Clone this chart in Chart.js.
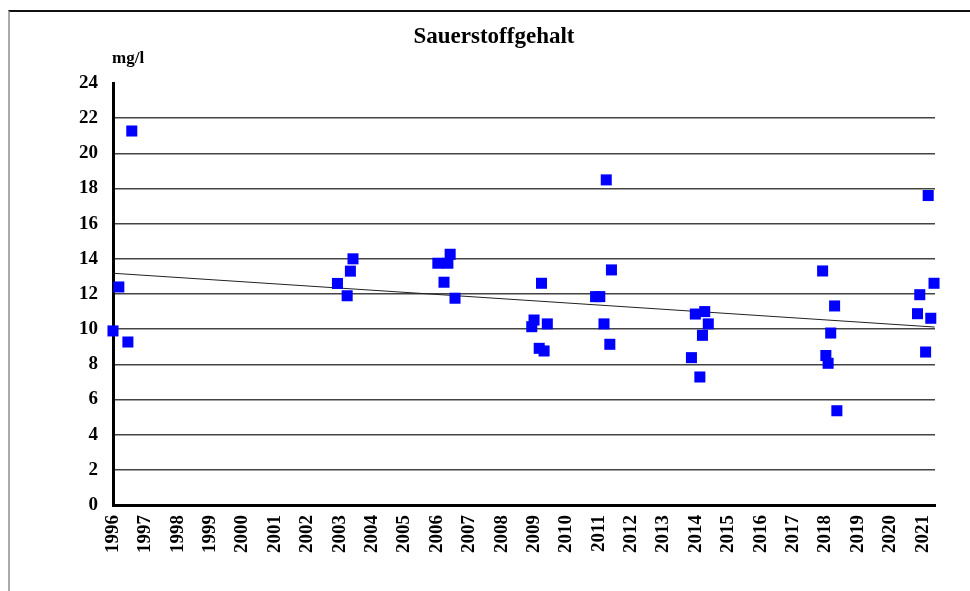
<!DOCTYPE html>
<html>
<head>
<meta charset="utf-8">
<script src="https://cdn.jsdelivr.net/npm/chart.js@4/dist/chart.umd.min.js"></script>
<style>
    html, body { margin: 0; padding: 0; background: #fff; }
    #wrap { position: relative; width: 970px; height: 591px; }
    #frame { position: absolute; left: 8px; top: 10px; right: 0; bottom: 0; border-top: 2px solid #111; border-left: 2px solid #aaa; }
    canvas { position: absolute; left: 0; top: 0; }
</style>
</head>
<body>
<div id="wrap">
    <div id="frame"></div>
    <canvas id="chart" width="970" height="591"></canvas>
</div>
<script>
//Measured values (decimal year, mg/l)
const sampleYears = [
    1996.0, 1996.18, 1996.46, 1996.58,
    2002.93, 2003.23, 2003.33, 2003.41,
    2006.03, 2006.22, 2006.34, 2006.41, 2006.56,
    2008.93, 2009.0, 2009.16, 2009.23, 2009.31, 2009.41,
    2010.9, 2011.03, 2011.16, 2011.23, 2011.34, 2011.39,
    2013.86, 2013.98, 2014.12, 2014.2, 2014.27, 2014.38,
    2017.91, 2018.01, 2018.08, 2018.16, 2018.28, 2018.35,
    2020.84, 2020.91, 2021.09, 2021.17, 2021.25, 2021.35
];
const oxygenValues = [
    9.9, 12.4, 9.27, 21.27,
    12.6, 11.9, 13.3, 14.0,
    13.75, 12.67, 13.75, 14.26, 11.76,
    10.14, 10.52, 8.91, 12.61, 8.76, 10.3,
    11.85, 11.85, 10.3, 18.49, 9.14, 13.37,
    8.38, 10.86, 7.28, 9.65, 11.0, 10.3,
    13.31, 8.5, 8.06, 9.78, 11.32, 5.36,
    10.88, 11.96, 8.7, 17.6, 10.62, 12.61
];

//Trend line end points
const trendYears = [1996, 2021.37];
const trendValues = [13.18, 10.12];

const yearTicks = [1996, 2021];
const valueTicks = [0, 24];

const serif = "'Liberation Serif', 'Times New Roman', serif";

const points = sampleYears.map((yr, i) => ({ x: yr, y: oxygenValues[i] }));
const trend = trendYears.map((yr, i) => ({ x: yr, y: trendValues[i] }));

//Title and unit text
const textPlugin = {
    id: 'texts',
    afterDraw(chart) {
        const c = chart.ctx;
        c.save();
        c.fillStyle = '#000';
        c.textBaseline = 'middle';
        c.textAlign = 'center';
        c.font = 'bold 23px ' + serif;
        c.fillText('Sauerstoffgehalt', 494, 37);
        c.textAlign = 'left';
        c.font = 'bold 17px ' + serif;
        c.fillText('mg/l', 112, 59);
        c.restore();
    }
};

const ctx = document.getElementById('chart').getContext('2d');

new Chart(ctx, {
    type: 'scatter',
    data: {
        datasets: [{
            data: points,
            pointStyle: 'rect',
            pointRadius: 7.8,
            pointHoverRadius: 7.8,
            backgroundColor: '#0000ff',
            borderColor: '#0000ff',
            borderWidth: 0,
            clip: false,
            order: 1
        }, {
            type: 'line',
            data: trend,
            borderColor: '#222',
            borderWidth: 1,
            pointRadius: 0,
            fill: false,
            clip: false,
            order: 2
        }]
    },
    options: {
        responsive: false,
        animation: false,
        layout: {
            padding: { top: 83, right: 35, bottom: 0, left: 0 }
        },
        scales: {
            x: {
                type: 'linear',
                min: yearTicks[0],
                max: 2021.38,
                afterFit: (scale) => { scale.height = 86; },
                ticks: {
                    stepSize: 1,
                    includeBounds: false,
                    maxRotation: 90,
                    minRotation: 90,
                    autoSkip: false,
                    padding: 10,
                    color: '#000',
                    font: { family: serif, size: 19, weight: 'bold' },
                    callback: (v) => String(v)
                },
                grid: { display: false, drawTicks: false },
                border: { display: true, color: '#000', width: 3 }
            },
            y: {
                min: valueTicks[0],
                max: valueTicks[1],
                afterFit: (scale) => { scale.width = 113; },
                ticks: {
                    stepSize: 2,
                    padding: 15,
                    color: '#000',
                    font: { family: serif, size: 19, weight: 'bold' }
                },
                grid: {
                    drawTicks: false,
                    color: (c) => c.tick && c.tick.value === 24 ? 'rgba(0,0,0,0)' : '#444',
                    lineWidth: 1.5
                },
                border: { display: true, color: '#000', width: 3 }
            }
        },
        plugins: {
            legend: { display: false },
            tooltip: { enabled: false }
        }
    },
    plugins: [textPlugin]
});
</script>
</body>
</html>
